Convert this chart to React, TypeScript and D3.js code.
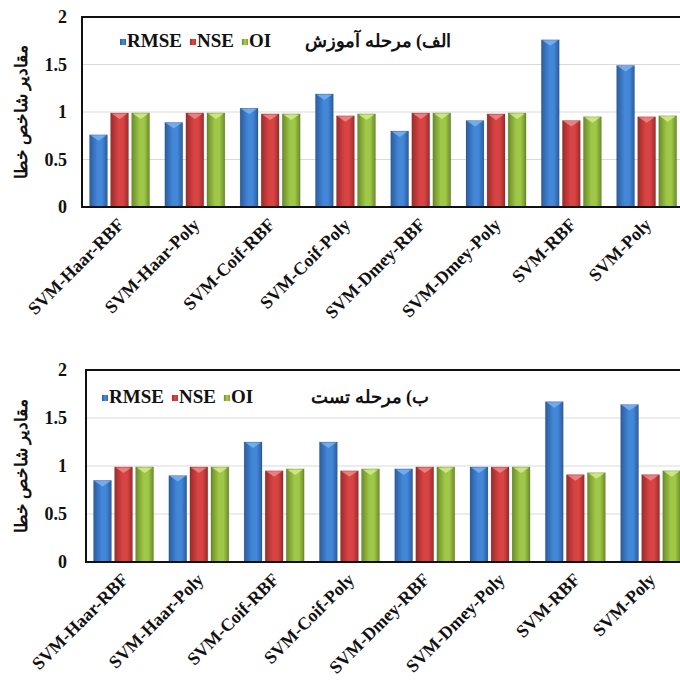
import { useEffect, useRef } from 'react';
import * as d3 from 'd3';

const categories = [
  'SVM-Haar-RBF',
  'SVM-Haar-Poly',
  'SVM-Coif-RBF',
  'SVM-Coif-Poly',
  'SVM-Dmey-RBF',
  'SVM-Dmey-Poly',
  'SVM-RBF',
  'SVM-Poly',
];
const seriesNames = ['RMSE', 'NSE', 'OI'];

const trainRmse = [0.76, 0.89, 1.04, 1.19, 0.8, 0.91, 1.76, 1.49];
const trainNse = [0.99, 0.99, 0.98, 0.96, 0.99, 0.98, 0.91, 0.95];
const trainOi = [0.99, 0.99, 0.98, 0.98, 0.99, 0.99, 0.95, 0.96];

const testRmse = [0.85, 0.9, 1.25, 1.25, 0.97, 0.99, 1.67, 1.64];
const testNse = [0.99, 0.99, 0.95, 0.95, 0.99, 0.99, 0.91, 0.91];
const testOi = [0.99, 0.99, 0.97, 0.97, 0.99, 0.99, 0.93, 0.95];

const yTicks = [0, 0.5, 1, 1.5, 2];
const yTitle = 'مقادیر شاخص خطا';
const trainTitle = 'الف) مرحله آموزش';
const testTitle = 'ب) مرحله تست';

const colors: Record<string, { edge: string; mid: string; cap: string }> = {
  RMSE: { edge: '#2a5c9f', mid: '#4387d8', cap: '#7db3ee' },
  NSE: { edge: '#9e2a2a', mid: '#d84444', cap: '#ef8a8a' },
  OI: { edge: '#6a8c26', mid: '#a0c848', cap: '#d2ec8a' },
};

const serif = "'Liberation Serif', serif";

function drawPanel(
  root: d3.Selection<SVGGElement, unknown, null, undefined>,
  opts: {
    left: number;
    top: number;
    bottom: number;
    values: number[][];
    title: string;
    titleX: number;
    legendX: number;
    legendY: number;
  }
) {
  const { left, top, bottom, values, title, titleX, legendX, legendY } = opts;
  const step = 75.3;
  const width = step * 7.997;

  const x = d3
    .scaleBand()
    .domain(categories)
    .range([left, left + width])
    .paddingInner(0.203)
    .paddingOuter(0.1);
  const xs = d3
    .scaleBand()
    .domain(seriesNames)
    .range([0, x.bandwidth()])
    .paddingInner(0.15);
  const y = d3.scaleLinear().domain([0, 2]).range([bottom, top]);

  const g = root.append('g');

  // gridlines
  g.selectAll('.grid')
    .data(yTicks.filter((t) => t > 0 && t < 2))
    .enter()
    .append('line')
    .attr('x1', left)
    .attr('x2', left + width)
    .attr('y1', (d) => y(d))
    .attr('y2', (d) => y(d))
    .attr('stroke', '#d9d9d9')
    .attr('stroke-width', 1.2);

  // bars
  const rows = categories.map((c, i) => ({
    cat: c,
    items: seriesNames.map((s, j) => ({ s, v: values[j][i] })),
  }));

  const groups = g
    .selectAll('.grp')
    .data(rows)
    .enter()
    .append('g')
    .attr('transform', (d) => `translate(${x(d.cat)},0)`);

  const bars = groups
    .selectAll('.bar')
    .data((d) => d.items)
    .enter()
    .append('g');

  bars
    .append('rect')
    .attr('x', (d) => xs(d.s)!)
    .attr('y', (d) => y(d.v))
    .attr('width', xs.bandwidth())
    .attr('height', (d) => y(0) - y(d.v))
    .attr('fill', (d) => `url(#grad-${d.s})`)
    .attr('stroke', 'rgba(0,0,0,0.15)')
    .attr('stroke-width', 0.8);

  bars
    .append('path')
    .attr('d', (d) => {
      const x0 = xs(d.s)!;
      const w = xs.bandwidth();
      const yt = y(d.v);
      return `M${x0 + 1},${yt + 0.5}L${x0 + w - 1},${yt + 0.5}L${x0 + w / 2},${yt + 6}Z`;
    })
    .attr('fill', (d) => colors[d.s].cap)
    .attr('opacity', 0.85);

  // frame
  g.append('rect')
    .attr('x', left)
    .attr('y', top)
    .attr('width', width)
    .attr('height', bottom - top)
    .attr('fill', 'none')
    .attr('stroke', '#111')
    .attr('stroke-width', 2);

  // y tick labels
  g.selectAll('.ytick')
    .data(yTicks)
    .enter()
    .append('text')
    .attr('x', 67)
    .attr('y', (d) => y(d))
    .attr('dy', '0.35em')
    .attr('text-anchor', 'end')
    .style('font-family', serif)
    .style('font-weight', 'bold')
    .style('font-size', '18px')
    .attr('fill', '#111')
    .text((d) => String(d));

  // y title
  g.append('text')
    .attr('transform', `translate(21,${(top + bottom) / 2}) rotate(-90)`)
    .attr('text-anchor', 'middle')
    .attr('dy', '0.35em')
    .style('font-family', serif)
    .style('font-weight', 'bold')
    .style('font-size', '17px')
    .attr('fill', '#111')
    .text(yTitle);

  // x labels
  g.selectAll('.xlab')
    .data(categories)
    .enter()
    .append('text')
    .attr(
      'transform',
      (d) => `translate(${x(d)! + x.bandwidth() / 2 + 2},${bottom + 15}) rotate(-45)`
    )
    .attr('text-anchor', 'end')
    .attr('dy', '0.3em')
    .style('font-family', serif)
    .style('font-weight', 'bold')
    .style('font-size', '18px')
    .attr('fill', '#111')
    .text((d) => d);

  // legend
  let lx = legendX;
  seriesNames.forEach((s) => {
    g.append('rect')
      .attr('x', lx)
      .attr('y', legendY - 8)
      .attr('width', 6)
      .attr('height', 6)
      .attr('fill', `url(#grad-${s})`);
    const t = g
      .append('text')
      .attr('x', lx + 7)
      .attr('y', legendY)
      .style('font-family', serif)
      .style('font-weight', 'bold')
      .style('font-size', '19px')
      .attr('fill', '#111')
      .text(s);
    const w = (t.node() as SVGTextElement).getComputedTextLength();
    lx += 7 + w + 8;
  });

  // title
  g.append('text')
    .attr('x', titleX)
    .attr('y', legendY)
    .attr('text-anchor', 'middle')
    .attr('direction', 'rtl')
    .style('font-family', serif)
    .style('font-weight', 'bold')
    .style('font-size', '18px')
    .attr('fill', '#111')
    .text(title);
}

export default function App() {
  const svgRef = useRef<SVGSVGElement>(null);

  useEffect(() => {
    if (!svgRef.current) return;
    const svg = d3.select(svgRef.current);
    svg.selectAll('*').remove();

    const defs = svg.append('defs');
    seriesNames.forEach((s) => {
      const lg = defs
        .append('linearGradient')
        .attr('id', `grad-${s}`)
        .attr('x1', '0')
        .attr('x2', '1')
        .attr('y1', '0')
        .attr('y2', '0');
      lg.append('stop').attr('offset', '0%').attr('stop-color', colors[s].edge);
      lg.append('stop').attr('offset', '45%').attr('stop-color', colors[s].mid);
      lg.append('stop').attr('offset', '70%').attr('stop-color', colors[s].mid);
      lg.append('stop').attr('offset', '100%').attr('stop-color', colors[s].edge);
    });

    const root = svg.append('g') as d3.Selection<SVGGElement, unknown, null, undefined>;

    drawPanel(root, {
      left: 82,
      top: 17,
      bottom: 207,
      values: [trainRmse, trainNse, trainOi],
      title: trainTitle,
      titleX: 378,
      legendX: 120,
      legendY: 47,
    });
    drawPanel(root, {
      left: 86,
      top: 370,
      bottom: 562,
      values: [testRmse, testNse, testOi],
      title: testTitle,
      titleX: 370,
      legendX: 102,
      legendY: 403,
    });
  }, []);

  return (
    <svg
      ref={svgRef}
      width={680}
      height={681}
      style={{ position: 'absolute', left: 0, top: 0, background: '#fff' }}
    ></svg>
  );
}
